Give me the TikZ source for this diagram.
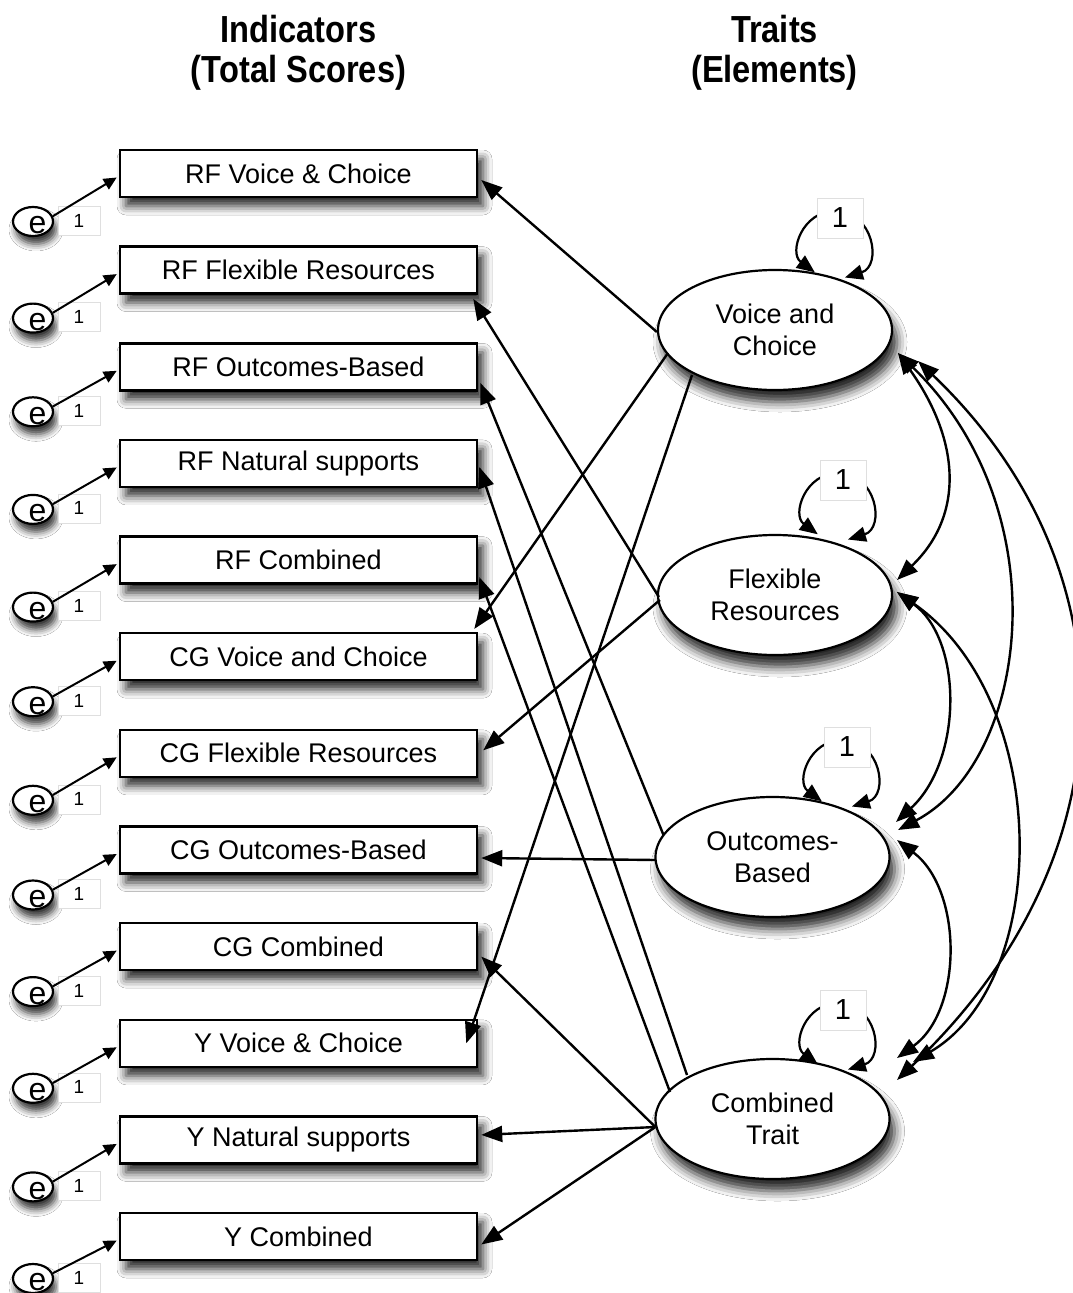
\documentclass[tikz,border=0pt]{standalone}
\usepackage{fontspec}
\setmainfont{Liberation Sans}
\newfontfamily\headfont{Liberation Sans}[FakeStretch=0.865]
\usetikzlibrary{shapes.geometric,arrows.meta,calc,shadows.blur}

% variance loop drawn round a centre coordinate
\newcommand{\varloop}[1]{%
  \draw[vloop] ($(#1)+(-20.2,27.3)$) .. controls +(-26.4,-19.5) and +(-32.8,0) ..
    ($(#1)+(0,-34)$) .. controls +(39,0) and +(37.3,-11.4) .. ($(#1)+(9.9,32.5)$);}

\tikzset{
  boxshadow/.style={blur shadow={shadow xshift=6pt, shadow yshift=-9pt, shadow blur radius=9pt, shadow opacity=85}},
  ind/.style={draw, line width=2.5pt, fill=white, minimum width=357pt, minimum height=47pt,
    inner sep=0pt, font=\fontsize{27}{32}\selectfont, boxshadow},
  trait/.style={ellipse, draw, line width=2.2pt, fill=white, minimum width=234pt, minimum height=120pt,
    inner sep=0pt, align=center, font=\fontsize{27}{32}\selectfont,
    blur shadow={shadow xshift=5pt, shadow yshift=-12pt, shadow blur radius=10pt, shadow opacity=85}},
  errc/.style={ellipse, draw, line width=2.2pt, fill=white, minimum width=40pt, minimum height=29pt,
    inner sep=0pt, blur shadow={shadow xshift=3pt, shadow yshift=-8pt, shadow blur radius=7pt, shadow opacity=80}},
  etext/.style={font=\fontsize{32}{32}\selectfont, inner sep=0pt},
  head/.style={font=\headfont\bfseries\fontsize{37.7}{40}\selectfont, inner sep=0pt, anchor=base},
  wlab/.style={draw=gray!25, line width=0.6pt, fill=white, inner sep=0pt},
  fix/.style={wlab, minimum width=42pt, minimum height=29pt, font=\fontsize{19}{19}\selectfont},
  var/.style={wlab, minimum width=46pt, minimum height=40pt, font=\fontsize{29}{29}\selectfont},
  load/.style={line width=2.4pt, -{Triangle[length=21pt,width=16pt]}},
  cov/.style={line width=2.4pt, {Triangle[length=21pt,width=16pt]}-{Triangle[length=21pt,width=16pt]}},
  vloop/.style={line width=2.2pt, {Triangle[length=18pt,width=15pt]}-{Triangle[length=18pt,width=15pt]}},
  errarr/.style={line width=2pt, -{Triangle[length=13pt,width=12pt]}},
}

\begin{document}
\begin{tikzpicture}[x=1pt,y=-1pt]
\useasboundingbox (0,0) rectangle (1073,1293);
\fill[white] (0,0) rectangle (1073,1293);

% column headings
\node[head] (h1) at (298.5,42) {Indicators};
\node[head] (h2) at (298.5,82) {(Total Scores)};
\node[head] (h3) at (774.5,42) {Traits};
\node[head] (h4) at (774.5,82) {(Elements)};

% indicator boxes
\node[ind] (b1)  at (298.5,173.5)  {RF Voice \& Choice};
\node[ind] (b2)  at (298.5,270.1)  {RF Flexible Resources};
\node[ind] (b3)  at (298.5,366.8)  {RF Outcomes-Based};
\node[ind] (b4)  at (298.5,463.4)  {RF Natural supports};
\node[ind] (b5)  at (298.5,560.1)  {RF Combined};
\node[ind] (b6)  at (298.5,656.7)  {CG Voice and Choice};
\node[ind] (b7)  at (298.5,753.3)  {CG Flexible Resources};
\node[ind] (b8)  at (298.5,850.0)  {CG Outcomes-Based};
\node[ind] (b9)  at (298.5,946.6)  {CG Combined};
\node[ind] (b10) at (298.5,1043.3) {Y Voice \& Choice};
\node[ind] (b11) at (298.5,1139.9) {Y Natural supports};
\node[ind] (b12) at (298.5,1236.5) {Y Combined};

% error terms with their fixed loadings
\foreach \k/\dy in {1/48,2/48,3/45,4/46,5/47,6/45,7/47,8/45,9/45,10/45,11/47,12/42}{
  \node[errc] (e\k) at ($(b\k.center)+(-265.5,\dy)$) {};
  \node[etext] (et\k) at ($(e\k.center)+(4.5,4)$) {e};
  \node[fix] (f\k) at ($(e\k.center)+(46,-1)$) {1};
  \draw[errarr] (e\k.15) -- ($(b\k.west)+(-2,4)$);
}

% traits
\node[trait] (vc) at (775,330)    {Voice and\\Choice};
\node[trait] (fr) at (775,595)    {Flexible\\Resources};
\node[trait] (ob) at (772.5,857)  {Outcomes-\\Based};
\node[trait] (ct) at (772.5,1119) {Combined\\Trait};

% loadings
\draw[load] ($(vc.west)+(0,2)$) -- ($(b1.east)+(3,6.5)$);
\draw[load] ($(vc.center)+(-107,23)$) -- ($(b6.north east)+(-4,-3)$);
\draw[load] ($(vc.center)+(-83,45)$) -- ($(b10.east)+(-12,0)$);
\draw[load] ($(fr.west)+(2,2)$) -- ($(b2.south east)+(-5,4)$);
\draw[load] ($(fr.west)+(3,5)$) -- ($(b7.east)+(5,-3)$);
\draw[load] ($(ob.center)+(-109,-22)$) -- ($(b3.east)+(2,16)$);
\draw[load] ($(ob.west)+(1,3)$) -- ($(b8.east)+(3,8)$);
\draw[load] ($(ct.center)+(-85.5,-44)$) -- ($(b4.east)+(1,3.5)$);
\draw[load] ($(ct.center)+(-102.5,-27)$) -- ($(b5.east)+(1,17)$);
\draw[load] ($(ct.west)+(1,8)$) -- ($(b9.east)+(3,10)$);
\draw[load] ($(ct.west)+(1,8)$) -- ($(b11.east)+(3,-5)$);
\draw[load] ($(ct.west)+(1,8)$) -- ($(b12.east)+(3,8)$);

% covariances between traits
\draw[cov] ($(vc.center)+(123,23)$) .. controls +(62,87) and +(68,-65) .. ($(fr.center)+(122,-15)$);
\draw[cov] ($(vc.center)+(123,23)$) .. controls +(162,157) and +(132,-70) .. ($(ob.center)+(125.5,-27)$);
\draw[cov] ($(vc.center)+(143,31)$) .. controls +(215,205) and +(238,-225) .. ($(ct.center)+(124.5,-39)$);
\draw[cov] ($(fr.center)+(122,-3)$) .. controls +(66,48) and +(67,-62) .. ($(ob.center)+(123.5,-35)$);
\draw[cov] ($(fr.center)+(122,-3)$) .. controls +(155,108) and +(139,-82) .. ($(ct.center)+(140.5,-57)$);
\draw[cov] ($(ob.center)+(124.5,-17)$) .. controls +(66,50) and +(66,-48) .. ($(ct.center)+(124.5,-61)$);

% trait variances fixed at 1
\coordinate (vcl) at ($(vc.center)+(60,-85)$);
\coordinate (frl) at ($(fr.center)+(63,-88)$);
\coordinate (obl) at ($(ob.center)+(69.5,-83)$);
\coordinate (ctl) at ($(ct.center)+(65.5,-82)$);
\varloop{vcl}
\varloop{frl}
\varloop{obl}
\varloop{ctl}
\node[var] (v1) at ($(vcl)+(5,-27)$) {1};
\node[var] (v2) at ($(frl)+(5,-27)$) {1};
\node[var] (v3) at ($(obl)+(5,-27)$) {1};
\node[var] (v4) at ($(ctl)+(5,-27)$) {1};
\end{tikzpicture}
\end{document}
